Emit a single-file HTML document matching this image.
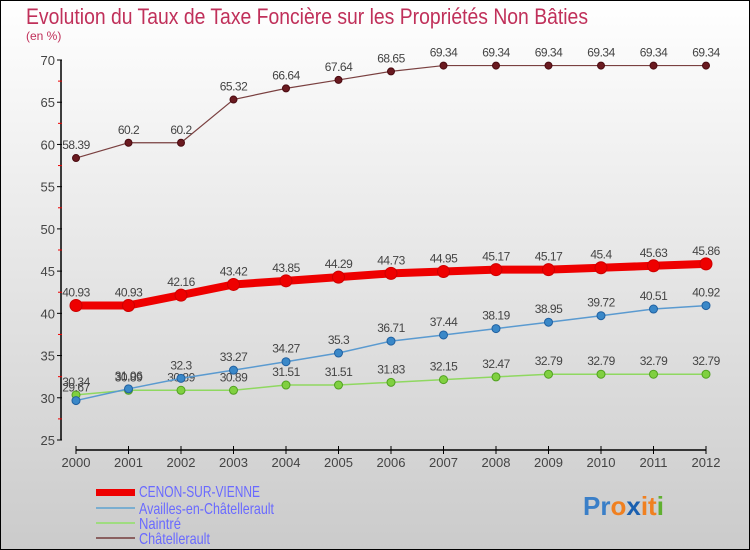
<!DOCTYPE html>
<html><head><meta charset="utf-8"><style>
body{margin:0}
#c{width:750px;height:550px;position:relative;overflow:hidden}
text{font-family:"Liberation Sans",sans-serif}
</style></head><body>
<div id="c">
<svg id="s" width="750" height="550" xmlns="http://www.w3.org/2000/svg">
<defs><linearGradient id="bg" x1="0" y1="0" x2="0" y2="1"><stop offset="0" stop-color="#ffffff"/><stop offset="1" stop-color="#cbcbcb"/></linearGradient></defs>
<rect x="0.5" y="0.5" width="749" height="549" fill="url(#bg)" stroke="#000"/>
<text x="26" y="24" font-size="22" fill="#c0305a" textLength="562" lengthAdjust="spacingAndGlyphs">Evolution du Taux de Taxe Foncière sur les Propriétés Non Bâties</text>
<text x="26" y="40" font-size="12" fill="#c0305a">(en %)</text>
<g id="axes"></g><g id="series"></g>
<g>
<rect x="96" y="489" width="39" height="7" fill="#e00"/>
<text x="139" y="497" font-size="16" fill="#6a6aff" textLength="121" lengthAdjust="spacingAndGlyphs">CENON-SUR-VIENNE</text>
<line x1="96" y1="508" x2="135" y2="508" stroke="#7aaed0" stroke-width="2"/>
<text x="139" y="514" font-size="16" fill="#6a6aff" textLength="135" lengthAdjust="spacingAndGlyphs">Availles-en-Châtellerault</text>
<line x1="96" y1="523" x2="135" y2="523" stroke="#9fdc80" stroke-width="2"/>
<text x="139" y="529" font-size="16" fill="#6a6aff" textLength="42" lengthAdjust="spacingAndGlyphs">Naintré</text>
<line x1="96" y1="538" x2="135" y2="538" stroke="#8a6060" stroke-width="2"/>
<text x="139" y="544" font-size="16" fill="#6a6aff" textLength="71" lengthAdjust="spacingAndGlyphs">Châtellerault</text>
</g>
<g><text x="583" y="515" font-size="26" font-weight="bold"><tspan fill="#3a7fc8">Pr</tspan><tspan fill="#f08020">o</tspan><tspan fill="#1a60b0">x</tspan><tspan fill="#f08020">it</tspan><tspan fill="#60b030">i</tspan></text></g>
</svg></div>
<script>
const years=[2000,2001,2002,2003,2004,2005,2006,2007,2008,2009,2010,2011,2012];
const cenon=[40.93,40.93,42.16,43.42,43.85,44.29,44.73,44.95,45.17,45.17,45.4,45.63,45.86];
const availles=[29.67,31.06,32.3,33.27,34.27,35.3,36.71,37.44,38.19,38.95,39.72,40.51,40.92];
const naintre=[30.34,30.89,30.89,30.89,31.51,31.51,31.83,32.15,32.47,32.79,32.79,32.79,32.79];
const chat=[58.39,60.2,60.2,65.32,66.64,67.64,68.65,69.34,69.34,69.34,69.34,69.34,69.34];
const yTicks=[25,30,35,40,45,50,55,60,65,70];
const NS='http://www.w3.org/2000/svg';
function X(i){return 76+i*52.5;}
function Y(v){return 440-(v-25)*(380/45);}
function mk(t,a,p){const e=document.createElementNS(NS,t);for(const k in a)e.setAttribute(k,a[k]);p.appendChild(e);return e;}
const ax=document.getElementById('axes');
let l=mk('line',{x1:61,y1:Y(70),x2:61,y2:Y(25),stroke:'#000','stroke-width':1.5},ax);


l=mk('line',{x1:X(0),y1:450,x2:X(12),y2:450,stroke:'#000','stroke-width':1.5},ax);


yTicks.forEach(v=>{
 const t=mk('line',{x1:57,y1:Y(v),x2:62,y2:Y(v),stroke:'#000'},ax);
 
 
 const tx=mk('text',{x:55,y:Y(v)+5,'font-size':13,fill:'#444','text-anchor':'end'},ax);tx.textContent=v;
 
 
 if(v<70){const m=mk('line',{x1:58,y1:Y(v+2.5),x2:62,y2:Y(v+2.5),stroke:'#e00'},ax);
 
 }
});
years.forEach((yr,i)=>{
 const t=mk('line',{x1:X(i),y1:446,x2:X(i),y2:454,stroke:'#000'},ax);
 
 
 const tx=mk('text',{x:X(i),y:467,'font-size':13,fill:'#444','text-anchor':'middle'},ax);tx.textContent=yr;
 
 
});
const sg=document.getElementById('series');
function draw(vals,name,color,w,r,dot,dotStroke){
 const g=mk('g',{},sg);
 
 
 const p=mk('polyline',{points:vals.map((v,i)=>X(i)+','+Y(v)).join(' '),fill:'none',stroke:color,'stroke-width':w},g);
 
 
 vals.forEach((v,i)=>{
  const c=mk('circle',{cx:X(i),cy:Y(v),r:r,fill:dot,stroke:dotStroke,'stroke-width':1},g);
  
  
  const t=mk('text',{x:X(i),y:Y(v)-9,'font-size':12,fill:'#444','text-anchor':'middle','letter-spacing':'-0.5'},g);t.textContent=v;
  
  
 });
}
draw(chat,'chatellerault','#7a4040',1.2,3.5,'#6a1a20','#4a0a10');
draw(naintre,'naintre','#8fd860',1.5,4,'#80d040','#50a020');
draw(availles,'availles','#5a9ad0',1.5,4,'#3a88c8','#2060a0');
draw(cenon,'cenon','#ee0000',8,6,'#ee0000','#cc0000');
</script>
</body></html>
